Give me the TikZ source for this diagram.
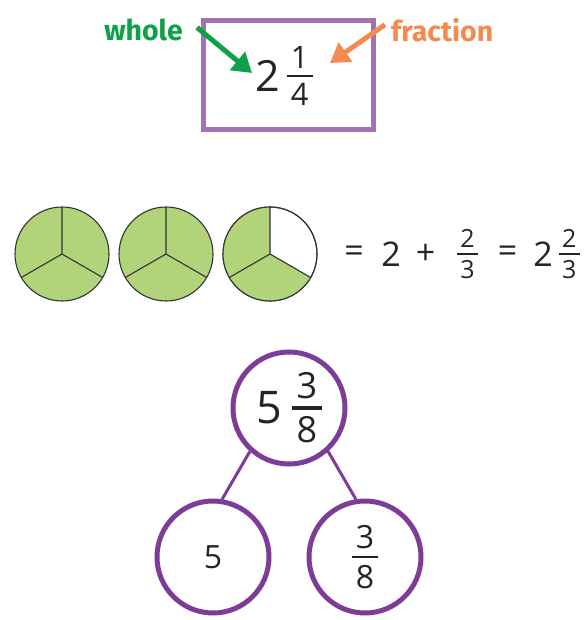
\documentclass[tikz,border=0pt]{standalone}
\usepackage{fontspec}
\setmainfont{Open Sans}
\newfontfamily\tagfont{Fira Sans}
\usetikzlibrary{arrows.meta,positioning,calc}
\definecolor{ink}{HTML}{242424}
\definecolor{boxpurple}{HTML}{A173B5}
\definecolor{ringpurple}{HTML}{7E3C98}
\definecolor{leafgreen}{HTML}{0FA04A}
\definecolor{peach}{HTML}{F58A4F}
\definecolor{piegreen}{HTML}{B1D47A}
\definecolor{pieedge}{HTML}{333333}
% stacked fraction: size, numerator, denominator
\newcommand{\fr}[3]{{\setbox0\hbox{\fontsize{#1}{#1}\selectfont\vbox{\offinterlineskip
  \halign{\hfil\kern.13em##\kern.13em\hfil\cr#2\cr\noalign{\kern.2em\hrule height.09em\kern.2em}#3\cr}}}%
  \raise\dimexpr\fontcharht\font`0/2-\ht0/2\relax\box0}}
\newcommand{\sz}[1]{\fontsize{#1}{#1}\selectfont}
\tikzset{
  >=Latex,
  every node/.style={text=ink,inner sep=0pt},
  numtext/.style={font=\sz{34}},
  tagtext/.style={font=\tagfont\bfseries\sz{28.5}},
  framebox/.style={draw=boxpurple,line width=5pt,minimum width=170pt,minimum height=109pt},
  ring/.style={circle,draw=ringpurple,line width=5pt,minimum size=112pt},
  branch/.style={draw=ringpurple,line width=3pt},
  tagarrow/.style={line width=5pt,-{Triangle[length=19pt,width=23pt]}},
  pie/.style={draw=pieedge,line width=1.1pt}
}
\begin{document}
\begin{tikzpicture}[x=1pt,y=1pt]
  \useasboundingbox (0,-620) rectangle (584,0);

  % top: whole and fraction parts
  \node[framebox] (box) at (288.5,-75) {};
  \node[font=\sz{43}] (topnum) at (284,-76) {2\kern7pt\fr{31}{1}{4}};
  \node[tagtext,text=leafgreen,anchor=base east] (whole) at (183,-41) {whole};
  \node[tagtext,text=peach,anchor=base west] (fraction) at (391,-42) {fraction};
  \coordinate (wholetip) at (252,-73);
  \coordinate (fractip) at (330,-63);
  \draw[tagarrow,draw=leafgreen,fill=leafgreen] ($(whole.east)+(14,3)$) -- (wholetip);
  \draw[tagarrow,draw=peach,fill=peach] ($(fraction.west)+(-6,6)$) -- (fractip);

  % middle: thirds of circles
  \foreach \cx in {62,166}{
    \filldraw[pie,fill=piegreen] (\cx,-254) circle[radius=47];
    \draw[pie] (\cx,-254) -- ++(90:47) (\cx,-254) -- ++(210:47) (\cx,-254) -- ++(330:47);
  }
  \filldraw[pie,fill=white] (270,-254) circle[radius=47];
  \fill[piegreen] (270,-254) -- ++(90:47) arc[start angle=90,end angle=330,radius=47] -- cycle;
  \draw[pie] (270,-254) circle[radius=47];
  \draw[pie] (270,-254) -- ++(90:47) (270,-254) -- ++(210:47) (270,-254) -- ++(330:47);

  \node[numtext] (eqa) at (354,-254) {=};
  \node[numtext] (two) at (391,-254) {2};
  \node[numtext] (plus) at (425.5,-254) {+};
  \node[numtext] (third) at (467.5,-254) {\fr{25}{2}{3}};
  \node[numtext] (eqb) at (507.5,-254) {=};
  \node[numtext] (total) at (556.5,-254) {2\kern6pt\fr{25}{2}{3}};

  % bottom: part-whole model
  \node[ring,font=\sz{45}] (wholering) at (289,-408) {5\kern10pt\fr{36}{3}{8}};
  \node[ring,font=\sz{32}] (leftring) at (213,-557) {5};
  \node[ring,font=\sz{32}] (rightring) at (365,-557) {\fr{32}{3}{8}};
  \draw[branch] (wholering.228) -- (leftring.81);
  \draw[branch] (wholering.312) -- (rightring.99);
\end{tikzpicture}
\end{document}
